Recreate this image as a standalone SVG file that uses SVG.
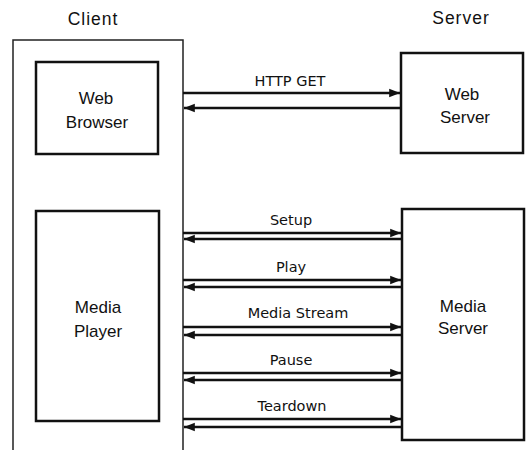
<svg xmlns="http://www.w3.org/2000/svg" width="527" height="450" viewBox="0 0 527 450">
  <defs>
    <marker id="head" viewBox="0 0 10 10" refX="10" refY="5" markerWidth="4.5" markerHeight="4.5" orient="auto-start-reverse" markerUnits="strokeWidth">
      <path d="M0,1 L10,5 L0,9 Z" fill="#111"/>
    </marker>
  </defs>
  <style>
    .frame { fill: none; stroke: #222; stroke-width: 1.5; }
    .box { fill: #fff; stroke: #111; stroke-width: 2.5; }
    .title { font-family: "Liberation Sans", Arial, sans-serif; font-size: 17.5px; fill: #111; text-anchor: middle; letter-spacing: 1px; }
    .name { font-family: "Liberation Sans", Arial, sans-serif; font-size: 17px; fill: #111; text-anchor: middle; }
    .msg { font-family: "DejaVu Sans", sans-serif; font-size: 14.5px; fill: #111; text-anchor: middle; }
    .arrow { stroke: #111; stroke-width: 2.4; fill: none; marker-end: url(#head); }
  </style>
  <rect width="527" height="450" fill="#fff"/>

  <text class="title" x="93" y="25">Client</text>
  <text class="title" x="461" y="24">Server</text>

  <!-- client side frame, open at the bottom -->
  <g id="client">
    <path class="frame" d="M13,450 V40 H183 V450"/>
  </g>

  <g id="web-browser">
    <rect class="box" x="36" y="62" width="122" height="92"/>
    <text class="name" x="96" y="104">Web</text>
    <text class="name" x="97" y="128">Browser</text>
  </g>

  <g id="media-player">
    <rect class="box" x="36" y="211" width="123" height="210"/>
    <text class="name" x="98" y="313">Media</text>
    <text class="name" x="98" y="337">Player</text>
  </g>

  <g id="web-server">
    <rect class="box" x="401" y="53" width="122" height="100"/>
    <text class="name" x="462" y="100">Web</text>
    <text class="name" x="465" y="123">Server</text>
  </g>

  <g id="media-server">
    <rect class="box" x="402" y="209" width="122" height="231"/>
    <text class="name" x="463" y="312">Media</text>
    <text class="name" x="463" y="334">Server</text>
  </g>

  <g id="connectors">
    <line class="arrow" x1="183" y1="93" x2="400" y2="93"/>
    <line class="arrow" x1="401" y1="108" x2="184" y2="108"/>
    <text class="msg" x="290" y="86">HTTP GET</text>

    <line class="arrow" x1="183" y1="233" x2="401" y2="233"/>
    <line class="arrow" x1="402" y1="239" x2="184" y2="239"/>
    <text class="msg" x="291" y="225">Setup</text>

    <line class="arrow" x1="183" y1="280" x2="401" y2="280"/>
    <line class="arrow" x1="402" y1="287" x2="184" y2="287"/>
    <text class="msg" x="291" y="272">Play</text>

    <line class="arrow" x1="183" y1="327" x2="401" y2="327"/>
    <line class="arrow" x1="402" y1="335" x2="184" y2="335"/>
    <text class="msg" x="298" y="318">Media Stream</text>

    <line class="arrow" x1="183" y1="373" x2="401" y2="373"/>
    <line class="arrow" x1="402" y1="380" x2="184" y2="380"/>
    <text class="msg" x="291" y="365">Pause</text>

    <line class="arrow" x1="183" y1="419" x2="401" y2="419"/>
    <line class="arrow" x1="402" y1="427" x2="184" y2="427"/>
    <text class="msg" x="292" y="411">Teardown</text>
  </g>
</svg>
